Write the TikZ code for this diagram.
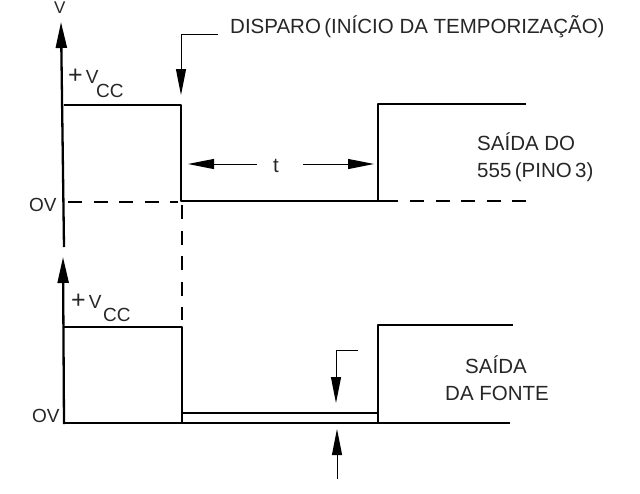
\documentclass[tikz,border=0pt]{standalone}
\usepackage{fontspec}
\setmainfont{Liberation Sans}
\usetikzlibrary{arrows.meta}
\newcommand{\bigplus}{{\fontsize{25}{25}\selectfont +}\hspace{3pt}}
\tikzset{
  lbl/.style={inner sep=0pt,anchor=base west,text=black!85,font=\fontsize{20.5}{24}\selectfont},
  smalllbl/.style={inner sep=0pt,anchor=base west,text=black!85,font=\fontsize{19}{20}\selectfont},
  toplbl/.style={inner sep=0pt,anchor=base west,text=black!85,font=\fontsize{17}{20}\selectfont},
  sublbl/.style={inner sep=0pt,anchor=base west,text=black!85,font=\fontsize{19}{22}\selectfont},
  axis/.style={line width=2.3pt,-{Triangle[length=26pt,width=11pt]}},
  wave/.style={line width=2pt,line join=round},
  thinwave/.style={line width=1.7pt},
  dashline/.style={line width=2pt,dash pattern=on 14pt off 11.5pt},
  pointer/.style={line width=1pt,-{Triangle[length=26pt,width=10pt]}},
  leader/.style={line width=1pt}
}
\begin{document}
\begin{tikzpicture}[x=1pt,y=-1pt]
\useasboundingbox (0,0) rectangle (640,493);
% named points
\coordinate (a1b) at (64,247); \coordinate (a1t) at (61,22);
\coordinate (a2b) at (64,424); \coordinate (a2t) at (63,257);
\coordinate (u1) at (64,105); \coordinate (u2) at (181,105); \coordinate (u3) at (181,201);
\coordinate (u4) at (378,201); \coordinate (u5) at (378,104); \coordinate (u6) at (526,104);
\coordinate (u7) at (398,201); \coordinate (d1) at (68,202); \coordinate (d2) at (178,202);
\coordinate (d3) at (410,201); \coordinate (d4) at (526,201);
\coordinate (v1) at (182,205); \coordinate (v2) at (182,320);
\coordinate (l1) at (64,327); \coordinate (l2) at (182,327); \coordinate (l3) at (182,423);
\coordinate (l4) at (64,423); \coordinate (l5) at (510,423);
\coordinate (l6) at (182,413); \coordinate (l7) at (378,413);
\coordinate (l8) at (378,423); \coordinate (l9) at (378,325); \coordinate (l10) at (513,325);
\coordinate (t1) at (218,34); \coordinate (t2) at (181,34); \coordinate (t3) at (181,95);
\coordinate (p1) at (358,350); \coordinate (p2) at (336,350); \coordinate (p3) at (336,403);
\coordinate (q1) at (337,479); \coordinate (q2) at (337,429);
\coordinate (r1) at (257,164); \coordinate (r2) at (188,164);
\coordinate (r3) at (303,164); \coordinate (r4) at (374,164);
% axes
\draw[axis] (a1b) -- (a1t);
\draw[axis] (a2b) -- (a2t);
% upper waveform
\draw[wave] (u1) -- (u2) -- (u3) -- (u7);
\draw[wave] (u4) -- (u5) -- (u6);
\draw[dashline] (d1) -- (d2);
\draw[dashline] (d3) -- (d4);
\draw[dashline] (v1) -- (v2);
% lower waveform
\draw[wave] (l1) -- (l2) -- (l3);
\draw[wave] (l4) -- (l5);
\draw[thinwave] (l6) -- (l7);
\draw[wave] (l8) -- (l9) -- (l10);
% labels
\node[lbl] (trig) at (230,33) {DISPARO\,(INÍCIO DA TEMPORIZAÇÃO)};
\node[toplbl] (vv) at (54,13.5) {V};
\node[smalllbl] (vcc1) at (68,83) {\bigplus V};
\node[sublbl] (cc1) at (96,97) {CC};
\node[smalllbl] (vcc2) at (71,308) {\bigplus V};
\node[sublbl] (cc2) at (103,321) {CC};
\node[sublbl] (ov1) at (29,211) {OV};
\node[sublbl] (ov2) at (32,422) {OV};
\node[lbl] (tt) at (273,172) {t};
\node[lbl] (s1) at (477,150) {SAÍDA DO};
\node[lbl] (s2) at (477,177) {555\,(PINO\,3)};
\node[lbl] (f1) at (465,373) {SAÍDA};
\node[lbl] (f2) at (445,400) {DA FONTE};
% pointers
\draw[leader] (t1) -- (t2);
\draw[pointer] (t2) -- (t3);
\draw[pointer] (r1) -- (r2);
\draw[pointer] (r3) -- (r4);
\draw[leader] (p1) -- (p2);
\draw[pointer] (p2) -- (p3);
\draw[pointer] (q1) -- (q2);
\end{tikzpicture}
\end{document}
